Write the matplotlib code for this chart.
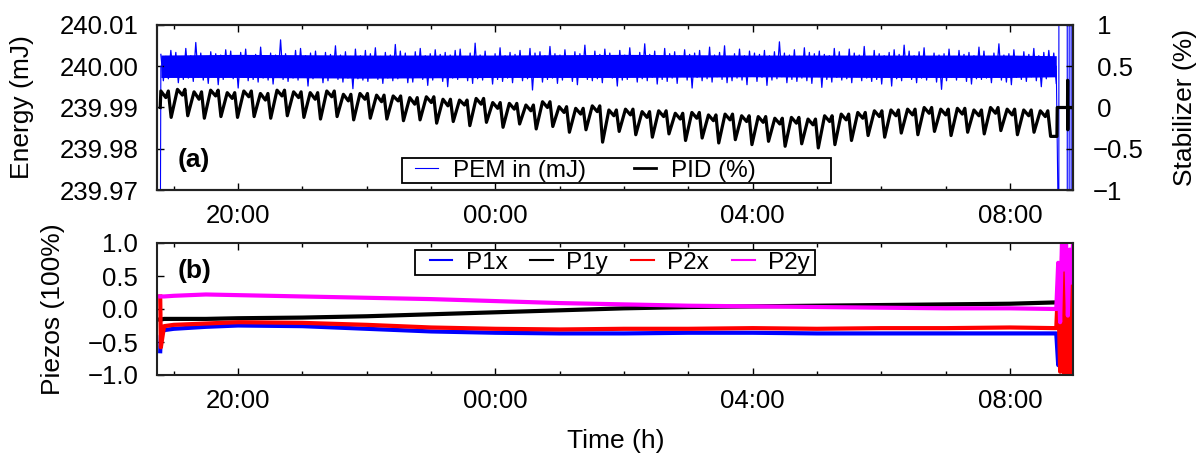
import numpy as np
import matplotlib.pyplot as plt
from matplotlib.patches import Rectangle
from matplotlib.lines import Line2D

plt.rcParams['font.family'] = ['Liberation Sans', 'DejaVu Sans']

# ---- data (time in hours, 24 = 00:00 next day) ----
T_START = 18.80
T_END = 32.72

# PEM energy noise around 240.000 mJ, in units of 1.6e-4 mJ
PEM_UNIT = 1.6e-4
PEM_NOISE = [
    18, -22, 15, -19, 24, -16, 21, -25, 14, -20, 27, -18, 16, -23, 36, -17, 20, -21, 13, -26,
    22, -15, 19, -28, 17, -20, 25, -14, 23, -19, 16, -33, 21, -17, 26, -22, 15, -20, 18, -24,
    29, -18, 14, -21, 20, -27, 17, -16, 40, -20, 19, -23, 15, -18, 24, -21, 27, -15, 16, -30,
    20, -19, 23, -17, 14, -25, 21, -22, 18, -16, 31, -20, 17, -24, 22, -18, 15, -34, 26, -19,
    16, -21, 24, -23, 19, -15, 28, -20, 15, -26, 21, -18, 17, -22, 33, -19, 23, -16, 20, -25,
    14, -24, 22, -17, 27, -20, 16, -29, 19, -21, 25, -15, 18, -23, 21, -31, 17, -18, 24, -20,
    26, -16, 15, -22, 20, -26, 35, -19, 17, -21, 23, -17, 14, -27, 19, -20, 28, -23, 16, -18,
    21, -25, 18, -15, 24, -22, 15, -19, 27, -36, 20, -17, 22, -24, 16, -20, 30, -18, 19, -26,
    17, -21, 25, -16, 14, -23, 22, -28, 19, -17, 32, -20, 15, -22, 23, -19, 18, -25, 26, -15,
    20, -18, 16, -30, 24, -21, 17, -20, 28, -16, 15, -24, 21, -19, 34, -22, 18, -17, 23, -27,
    15, -20, 27, -23, 19, -18, 22, -26, 16, -15, 25, -21, 18, -33, 20, -17, 24, -22, 14, -19,
    29, -24, 17, -16, 21, -20, 31, -25, 15, -22, 19, -18, 26, -21, 16, -28, 23, -15, 20, -23,
    18, -17, 24, -29, 16, -21, 22, -19, 37, -16, 20, -25, 17, -20, 25, -23, 15, -18, 28, -22,
    21, -26, 19, -15, 23, -32, 18, -20, 16, -24, 27, -17, 22, -21, 14, -19, 26, -25, 20, -16,
    17, -22, 30, -18, 15, -23, 24, -20, 19, -27, 16, -15, 21, -30, 25, -19, 18, -22, 32, -17,
    23, -20, 16, -25, 22, -18, 28, -21, 14, -16, 20, -24, 17, -35, 19, -22, 26, -17, 15, -21,
    24, -15, 18, -23, 21, -27, 16, -19, 29, -20, 23, -18, 15, -25, 20, -16, 34, -21, 17, -24,
    19, -28, 25, -17, 14, -20, 22, -23, 18, -16, 27, -22, 16, -31, 21, -19, 24, -15, 20, -26,
]
# dense core of the PEM noise band (same units)
PEM_CORE_T = [18.80, 20, 22, 24, 26, 28, 30, 32, 32.72]
PEM_CORE_HI = [17, 18, 17, 17, 18, 17, 17, 17, 16]
PEM_CORE_LO = [-17, -17, -18, -17, -17, -16, -17, -17, -16]
# start glitch and end glitches of PEM (out of range -> vertical lines)
PEM_START_T = [18.79, 18.80]
PEM_START_V = [239.95, 240.0]
PEM_END_T = [32.72, 32.76, 32.761, 32.89, 32.891, 32.92, 32.921, 32.95, 32.951]
PEM_END_V = [240.0, 239.95, 240.05, 240.05, 239.95, 239.95, 240.05, 240.05, 239.95]

# PID stabilizer (%) sawtooth: top, mid-plateau and bottom of each tooth
PID_TOP = [0.20, 0.22, 0.19, 0.21, 0.18,
           0.20, 0.17, 0.21, 0.19, 0.18, 0.20, 0.16, 0.17,
           0.15, 0.14, 0.12, 0.13, 0.10, 0.09, 0.11, 0.06,
           0.05, 0.03, 0.07, 0.01, -0.01, 0.02, -0.03, -0.02,
           -0.05, -0.04, -0.07, -0.06, -0.09, -0.08, -0.10, -0.11,
           -0.13, -0.12, -0.14, -0.10, -0.08, -0.06, -0.04, -0.03,
           -0.02, 0.00, -0.02, -0.01, -0.03, 0.00, -0.02, -0.03, -0.04]
PID_MID = [0.12, 0.15, 0.10, 0.14, 0.11,
           0.13, 0.09, 0.14, 0.12, 0.10, 0.13, 0.08, 0.10,
           0.07, 0.08, 0.04, 0.06, 0.02, 0.03, 0.04, -0.01,
           -0.02, -0.04, 0.00, -0.06, -0.08, -0.05, -0.10, -0.09,
           -0.12, -0.11, -0.14, -0.13, -0.16, -0.15, -0.17, -0.18,
           -0.20, -0.19, -0.21, -0.17, -0.15, -0.13, -0.11, -0.10,
           -0.09, -0.07, -0.09, -0.08, -0.10, -0.07, -0.09, -0.10, -0.11]
PID_BOT = [-0.12, -0.10, -0.13, -0.11, -0.12,
           -0.11, -0.13, -0.10, -0.12, -0.14, -0.11, -0.15, -0.13,
           -0.14, -0.16, -0.15, -0.19, -0.17, -0.22, -0.18, -0.24,
           -0.20, -0.26, -0.23, -0.30, -0.27, -0.42, -0.29, -0.33,
           -0.36, -0.32, -0.40, -0.37, -0.43, -0.39, -0.45, -0.41,
           -0.47, -0.44, -0.49, -0.45, -0.40, -0.34, -0.36, -0.31,
           -0.33, -0.29, -0.34, -0.30, -0.32, -0.28, -0.33, -0.30, -0.35]
PID_START_T = [18.79]
PID_START_V = [0.0]
PID_END_T = [32.73, 32.735, 32.895, 32.897, 32.899, 32.901, 33.0]
PID_END_V = [-0.35, 0.0, 0.0, 0.33, -0.27, 0.0, 0.0]

# Piezos
PZ_T = [18.79, 18.80, 18.85, 19.0, 19.5, 20, 21, 22, 23, 24, 25, 26, 27, 28, 29, 30, 31, 32, 32.72]
P1X = [-0.64, -0.40, -0.32, -0.30, -0.27, -0.25, -0.26, -0.30, -0.34, -0.36, -0.37, -0.37, -0.36, -0.36, -0.37, -0.37, -0.37, -0.37, -0.37]
P1Y = [-0.16, -0.16, -0.15, -0.15, -0.15, -0.14, -0.13, -0.11, -0.08, -0.05, -0.02, 0.01, 0.03, 0.04, 0.05, 0.06, 0.07, 0.08, 0.10]
P2X = [0.19, -0.58, -0.26, -0.24, -0.22, -0.20, -0.21, -0.24, -0.28, -0.30, -0.31, -0.30, -0.30, -0.29, -0.30, -0.29, -0.29, -0.28, -0.29]
P2Y = [0.19, 0.19, 0.19, 0.20, 0.22, 0.21, 0.19, 0.17, 0.15, 0.12, 0.09, 0.07, 0.05, 0.04, 0.03, 0.02, 0.01, 0.01, 0.00]
PZ_END_T = [32.75, 32.78, 32.81, 32.84, 32.87, 32.90, 32.93, 32.96, 32.98]
P1X_END = [-0.85, -0.2, 0.3, -0.5, 0.6, -0.3, 0.2, -0.6, -0.1]
P1Y_END = [0.12, -0.05, 0.2, -0.15, 0.05, 0.1, -0.3, 0.0, -0.4]
P2X_END = [0.4, -0.95, 0.8, -1.1, 0.9, -1.1, 0.5, -1.0, -0.5]
P2Y_END = [0.7, -0.2, 1.1, 0.6, 1.1, -0.1, 0.9, 0.4, 1.0]

MAJOR_T = [20, 24, 28, 32]
MAJOR_LBL = ['20:00', '00:00', '04:00', '08:00']
MINOR_T = list(range(19, 33))

# ---- build series ----
pem_t = np.linspace(T_START, T_END, len(PEM_NOISE))
pem_v = 240.0 + np.array(PEM_NOISE) * PEM_UNIT

period = (T_END + 0.01 - T_START) / len(PID_TOP)
pid_t, pid_v = list(PID_START_T), list(PID_START_V)
for i in range(len(PID_TOP)):
    t0 = T_START + i * period
    pid_t += [t0, t0 + 0.3 * period, t0 + 0.45 * period, t0 + 0.62 * period]
    pid_v += [PID_TOP[i], PID_MID[i], PID_TOP[i], PID_BOT[i]]
pid_t += PID_END_T
pid_v += PID_END_V

# ---- figure ----
fig = plt.figure(figsize=(12.03, 4.55), dpi=100)
W, H = 1203, 455
L, R = 157 / W, 1073 / W
ax = fig.add_axes([L, (H - 190) / H, R - L, 165 / H])
ax2 = ax.twinx()
bx = fig.add_axes([L, (H - 375) / H, R - L, 132 / H])

FS_TICK = 18.5
FS_LAB = 19

ax.fill_between(PEM_CORE_T, 240.0 + np.array(PEM_CORE_LO) * PEM_UNIT,
                240.0 + np.array(PEM_CORE_HI) * PEM_UNIT, color='#0000ff', lw=0)
ax.plot(pem_t, pem_v, color='#0000ff', lw=0.9)
ax.plot(PEM_START_T, PEM_START_V, color='#0000ff', lw=0.8)
ax.plot(PEM_END_T, PEM_END_V, color='#0000ff', lw=0.8)
ax2.plot(pid_t, pid_v, color='black', lw=2.3)

ax.set_ylim(239.97, 240.01)
ax2.set_ylim(-1, 1)
ax.set_yticks([239.97, 239.98, 239.99, 240.00, 240.01])
ax.set_yticklabels(['239.97', '239.98', '239.99', '240.00', '240.01'])
ax2.set_yticks([-1, -0.5, 0, 0.5, 1])
ax2.set_yticklabels(['\u22121', '\u22120.5', '\u20090', '\u20090.5', '\u20091'])

bx.plot(PZ_T + PZ_END_T, P1X + P1X_END, color='#0000ff', lw=3)
bx.plot(PZ_T + PZ_END_T, P1Y + P1Y_END, color='black', lw=3)
bx.plot(PZ_T + PZ_END_T, P2X + P2X_END, color='#ff0000', lw=3)
bx.plot(PZ_T + PZ_END_T, P2Y + P2Y_END, color='#ff00ff', lw=3)
bx.set_ylim(-1, 1)
bx.set_yticks([-1, -0.5, 0, 0.5, 1])
bx.set_yticklabels(['\u22121.0', '\u22120.5', '0.0', '0.5', '1.0'])

for a in (ax, bx):
    a.set_xlim(18.74, 32.98)
    a.set_xticks(MAJOR_T)
    a.set_xticklabels(MAJOR_LBL)
    a.set_xticks(MINOR_T, minor=True)
    a.tick_params(axis='x', which='both', direction='in', top=True, bottom=True)
    a.tick_params(axis='x', which='major', length=5, width=1, pad=10, labelsize=FS_TICK)
    a.tick_params(axis='x', which='minor', length=3, width=1)
    a.tick_params(axis='y', which='major', direction='in', left=True, right=False,
                  length=5, width=1, pad=13.5, labelsize=FS_TICK)
ax2.tick_params(axis='y', direction='in', length=5, width=1, pad=14, labelsize=FS_TICK)
for a in (ax, ax2, bx):
    for s in a.spines.values():
        s.set_linewidth(1.5)
        s.set_color('#222222')

# panel tags
ax.text(0.022, 0.18, '(a)', transform=ax.transAxes, fontsize=FS_LAB, fontweight='bold',
        ha='left', va='center')
bx.text(0.022, 0.79, '(b)', transform=bx.transAxes, fontsize=FS_LAB, fontweight='bold',
        ha='left', va='center')

# legends (gnuplot style boxes)
ax2.add_patch(Rectangle((0.2675, 0.042), 0.4683, 0.152, transform=ax2.transAxes,
                        facecolor='white', edgecolor='black', lw=1.3, zorder=5))
h1 = [Line2D([], [], color='#0000ff', lw=0.8), Line2D([], [], color='black', lw=2.0)]
lg1 = ax2.legend(h1, ['PEM in (mJ)', 'PID (%)'], loc='center left',
                 bbox_to_anchor=(0.2675, 0.118), ncol=2, frameon=False, fontsize=17.5,
                 borderpad=0.55, borderaxespad=0, handlelength=0.93, handletextpad=0.6,
                 columnspacing=1.98)
lg1.set_zorder(6)

bx.add_patch(Rectangle((0.2817, 0.7576), 0.4367, 0.1894, transform=bx.transAxes,
                       facecolor='white', edgecolor='black', lw=1.3, zorder=5))
h2 = [Line2D([], [], color=c, lw=1.5) for c in ['#0000ff', 'black', '#ff0000', '#ff00ff']]
lg2 = bx.legend(h2, ['P1x', 'P1y', 'P2x', 'P2y'], loc='center left',
                bbox_to_anchor=(0.2817, 0.8523), ncol=4, frameon=False, fontsize=17.5,
                borderpad=0.6, borderaxespad=0, handlelength=0.93, handletextpad=0.55,
                columnspacing=0.95)
lg2.set_zorder(6)

# axis labels
fig.text(22 / W, (H - 107.5) / H, 'Energy (mJ)', rotation=90, fontsize=FS_LAB,
         ha='center', va='center')
fig.text(1185 / W, (H - 107.5) / H, 'Stabilizer (%)', rotation=90, fontsize=FS_LAB,
         ha='center', va='center')
fig.text(53 / W, (H - 309) / H, 'Piezos (100%)', rotation=90, fontsize=FS_LAB,
         ha='center', va='center')
fig.text(616 / W, (H - 441) / H, 'Time (h)', fontsize=FS_LAB, ha='center', va='center')

fig.savefig('out.png', dpi=100)
